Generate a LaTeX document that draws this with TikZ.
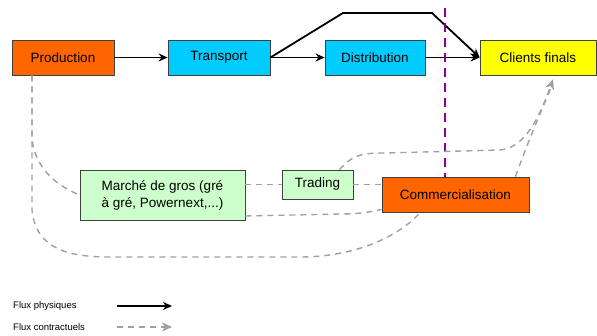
\documentclass[tikz,border=0pt]{standalone}
\usepackage{fontspec}
\setmainfont{Liberation Sans}
\usetikzlibrary{arrows.meta}
\definecolor{orangebox}{RGB}{255,102,0}
\definecolor{cyanbox}{RGB}{0,204,255}
\definecolor{yellowbox}{RGB}{255,255,0}
\definecolor{greenbox}{RGB}{204,255,204}
\definecolor{contract}{RGB}{160,160,160}
\definecolor{cutline}{RGB}{140,0,150}
\tikzset{box/.style = {draw = black!75, line width = 0.8, inner sep = 0, font = \fontsize{13.5}{17}\selectfont, minimum height = 35}}
\tikzset{phys/.style = {line width = 1.8, -{Stealth[length = 9, width = 8]}}}
\tikzset{contr/.style = {contract, line width = 1.4, dash pattern = on 6 off 5}}
\tikzset{contrarrow/.style = {contr, -{Stealth[length = 10, width = 9, inset = 3]}}}

\begin{document}
\begin{tikzpicture}[x = 1pt, y = -1pt]
    \useasboundingbox (0, 0) rectangle (597, 336);

    \node [box, fill = orangebox, minimum width = 102] (prod) at (63, 57.5) {Production};
    \node [box, fill = cyanbox, minimum width = 102] (transp) at (219, 57.5) {Transport};
    \node [box, fill = cyanbox, minimum width = 100] (distrib) at (375, 57.5) {Distribution};
    \node [box, fill = yellowbox, minimum width = 116] (clients) at (538, 57.5) {Clients finals};
    \node [box, fill = greenbox, minimum width = 165, minimum height = 50, align = center] (marche) at (162.5, 195) {Marché de gros (gré\\à gré, Powernext,...)};
    \node [box, fill = greenbox, minimum width = 71, minimum height = 29] (trading) at (317.5, 184.5) {Trading};
    \node [box, fill = orangebox, minimum width = 147] (comm) at (455.5, 194.5) {Commercialisation};

    % flux physiques
    \draw [phys] (prod) -- (transp);
    \draw [phys] (transp) -- (distrib);
    \draw [phys] (distrib) -- (clients);
    \draw [phys] (transp.east) -- (343, 13) -- (432, 13) -- (clients.west);

    % limite
    \coordinate (cuttop) at (445, 8);
    \draw [cutline, line width = 2, dash pattern = on 9 off 6] (cuttop) -- (cuttop |- comm.north);

    % flux contractuels
    \draw [contr] ([xshift = -31]prod.south) -- (32, 140) .. controls (36, 168) and (55, 185) .. (marche.west);
    \draw [contr] ([xshift = -31]prod.south) -- (32, 210) .. controls (36, 250) and (70, 257) .. (110, 257) -- (300, 257) .. controls (350, 257) and (395, 240) .. ([xshift = -35]comm.south);
    \draw [contr] (trading.west -| marche.east) -- (trading.west);
    \draw [contr] (trading.east) -- (trading.east -| comm.west);
    \draw [contr] ([yshift = -21]marche.east) -- (340, 214) .. controls (360, 214) and (370, 212) .. ([yshift = -15]comm.west);
    \draw [contrarrow] ([xshift = 22]trading.north) .. controls (352, 155) and (362, 153) .. (385, 153) -- (500, 150) .. controls (520, 148) and (535, 130) .. ([xshift = 15, yshift = -4]clients.south);
    \draw [contr] ([xshift = 60]comm.north) .. controls (525, 150) and (535, 125) .. ([xshift = 15, yshift = -8]clients.south);

    % legende
    \node [anchor = west, font = \fontsize{9.5}{11}\selectfont, inner sep = 0] (physlbl) at (13, 306) {Flux physiques};
    \node [anchor = west, font = \fontsize{9.5}{11}\selectfont, inner sep = 0] (contrlbl) at (13, 327) {Flux contractuels};
    \draw [phys] ([xshift = 104]physlbl.west) -- ++(55, 0);
    \draw [contrarrow] ([xshift = 104]contrlbl.west) -- ++(55, 0);
  \end{tikzpicture}
\end{document}
